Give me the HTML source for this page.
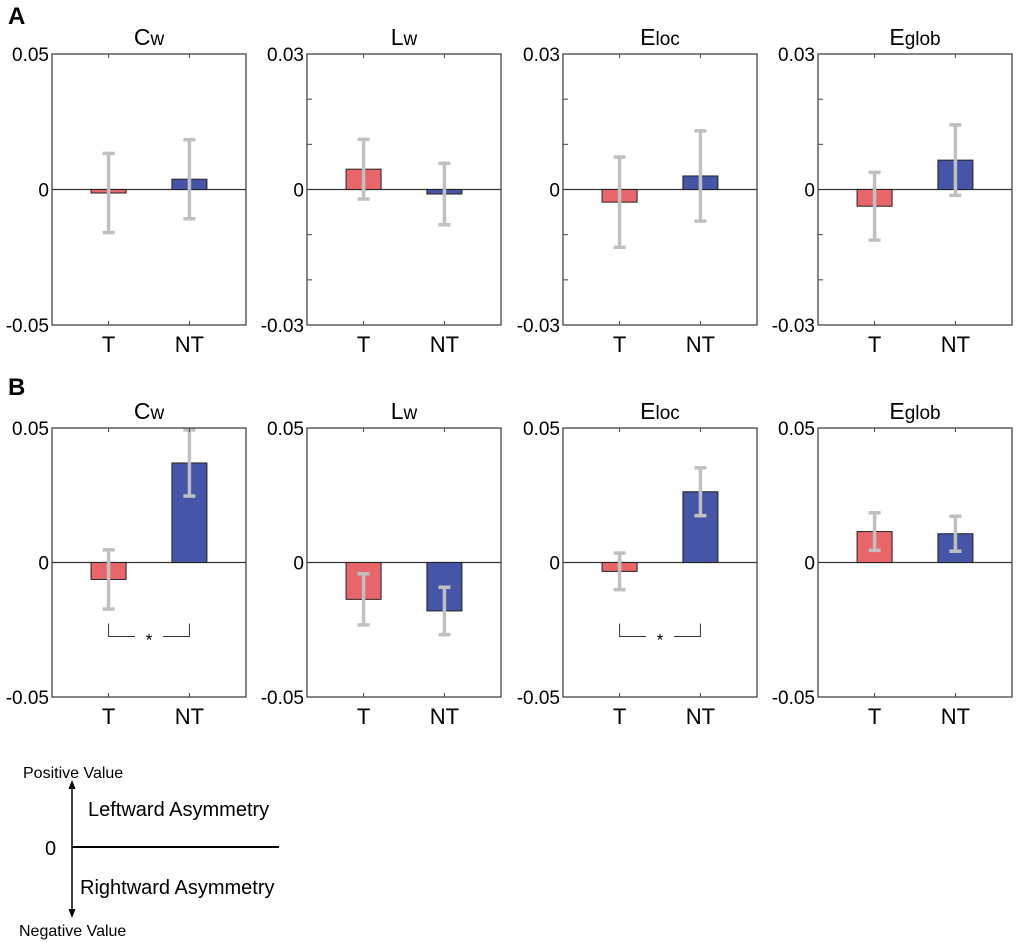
<!DOCTYPE html>
<html><head><meta charset="utf-8"><style>
body{margin:0;background:#fff;}
svg{display:block;font-family:"Liberation Sans",Arial,sans-serif;}
</style></head><body>
<svg id="fig" width="1020" height="942" viewBox="0 0 1020 942">
<text x="8" y="24" font-size="24" font-weight="bold">A</text>
<text x="8" y="395" font-size="24" font-weight="bold">B</text>
<g>
<line x1="72" y1="786" x2="72" y2="912" stroke="#000" stroke-width="1.5"/>
<polygon points="72,780 68.5,789 75.5,789" fill="#000"/>
<polygon points="72,918 68.5,909 75.5,909" fill="#000"/>
<line x1="72" y1="847" x2="279" y2="847" stroke="#000" stroke-width="2"/>
<text x="23" y="778" font-size="16">Positive Value</text>
<text x="88" y="816" font-size="20">Leftward Asymmetry</text>
<text x="45" y="855" font-size="20">0</text>
<text x="80" y="894" font-size="20">Rightward Asymmetry</text>
<text x="19" y="936" font-size="16">Negative Value</text>
</g>
</svg>
<script>
const metricMain = ["C","L","E","E"];
const metricSub = ["w","w","loc","glob"];
const categories = ["T","NT"];
const rowAMax = [0.05,0.03,0.03,0.03];
const rowAT = [-0.0013,0.0045,-0.0028,-0.0037];
const rowATErr = [0.0146,0.0066,0.0100,0.0075];
const rowANT = [0.0038,-0.0010,0.0030,0.0065];
const rowANTErr = [0.0146,0.0068,0.0100,0.0078];
const rowBMax = [0.05,0.05,0.05,0.05];
const rowBT = [-0.0063,-0.0137,-0.0033,0.0115];
const rowBTErr = [0.0110,0.0095,0.0068,0.0070];
const rowBNT = [0.0370,-0.0180,0.0263,0.0107];
const rowBNTErr = [0.0123,0.0088,0.0089,0.0065];
const rowBSig = [true,false,true,false];

const NS="http://www.w3.org/2000/svg";
const svg=document.getElementById('fig');
function mk(tag,attrs,parent){const e=document.createElementNS(NS,tag);for(const k in attrs)e.setAttribute(k,attrs[k]);(parent||svg).appendChild(e);return e;}
const lefts=[52,307,563,818], W=194;
function fmt(v){return v.toFixed(2);}
function panel(row,i,max,tv,te,nv,ne,sig){
  const top=row===0?54:428, bot=row===0?325:697, H=bot-top;
  const L=lefts[i];
  const g=mk('g',{});
  
  
  const y=v=>top+(max-v)/(2*max)*H;
  const x=c=>L+(c+1-0.3)/2.4*W;
  const t=mk('text',{x:L+W/2,y:top-9,'text-anchor':'middle','font-size':23},g);
  
  
  t.textContent=metricMain[i];
  const s=mk('tspan',{'font-size':19},t);s.textContent=metricSub[i];
  const step=max===0.03?0.01:0.05;
  for(let v=-max+step;v<max-1e-9;v+=step){mk('line',{x1:L,y1:y(v),x2:L+5,y2:y(v),stroke:'#444','stroke-width':1},g);}
  mk('line',{x1:L,y1:y(0),x2:L+W,y2:y(0),stroke:'#333','stroke-width':1.3},g);
  const vals=[tv,nv], errs=[te,ne], cols=['#e8656a','#4556a8'];
  for(let c=0;c<2;c++){
    const cx=x(c),bw=35;
    const r=mk('rect',{x:cx-bw/2,y:Math.min(y(vals[c]),y(0)),width:bw,height:Math.abs(y(vals[c])-y(0)),fill:cols[c],stroke:'#222','stroke-width':1},g);
    
    
    const y1=y(vals[c]+errs[c]),y2=y(vals[c]-errs[c]);
    const eb=mk('g',{stroke:'#c0c0c0','stroke-width':3.5},g);
    
    
    mk('line',{x1:cx,y1:y1,x2:cx,y2:y2},eb);
    mk('line',{x1:cx-6,y1:y1,x2:cx+6,y2:y1},eb);
    mk('line',{x1:cx-6,y1:y2,x2:cx+6,y2:y2},eb);
    mk('line',{x1:cx,y1:top,x2:cx,y2:top+4,stroke:'#444'},g);
    mk('line',{x1:cx,y1:bot,x2:cx,y2:bot-4,stroke:'#444'},g);
    const xl=mk('text',{x:cx,y:bot+27,'text-anchor':'middle','font-size':22},g);
    
    
    xl.textContent=categories[c];
  }
  mk('rect',{x:L,y:top,width:W,height:H,fill:'none',stroke:'#444','stroke-width':1.3},g);
  [[max,top+7],[0,y(0)+7],[-max,bot+7]].forEach(([v,yy])=>{
    const tl=mk('text',{x:L-3,y:yy,'text-anchor':'end','font-size':19},g);
    
    
    tl.textContent=v===0?'0':fmt(v);
  });
  if(sig){
    const a=x(0),b=x(1),yb=y(-0.0275),yt=yb-13,m=(a+b)/2;
    const sg=mk('g',{stroke:'#333','stroke-width':1,fill:'none'},g);
    
    
    mk('polyline',{points:`${a},${yt} ${a},${yb} ${m-14},${yb}`},sg);
    mk('polyline',{points:`${m+14},${yb} ${b},${yb} ${b},${yt}`},sg);
    const st=mk('text',{x:m,y:yb+9,'text-anchor':'middle','font-size':17},g);
    
    
    st.textContent='*';
  }
}
for(let i=0;i<4;i++){
  panel(0,i,rowAMax[i],rowAT[i],rowATErr[i],rowANT[i],rowANTErr[i],false);
  panel(1,i,rowBMax[i],rowBT[i],rowBTErr[i],rowBNT[i],rowBNTErr[i],rowBSig[i]);
}
</script>
</body></html>
